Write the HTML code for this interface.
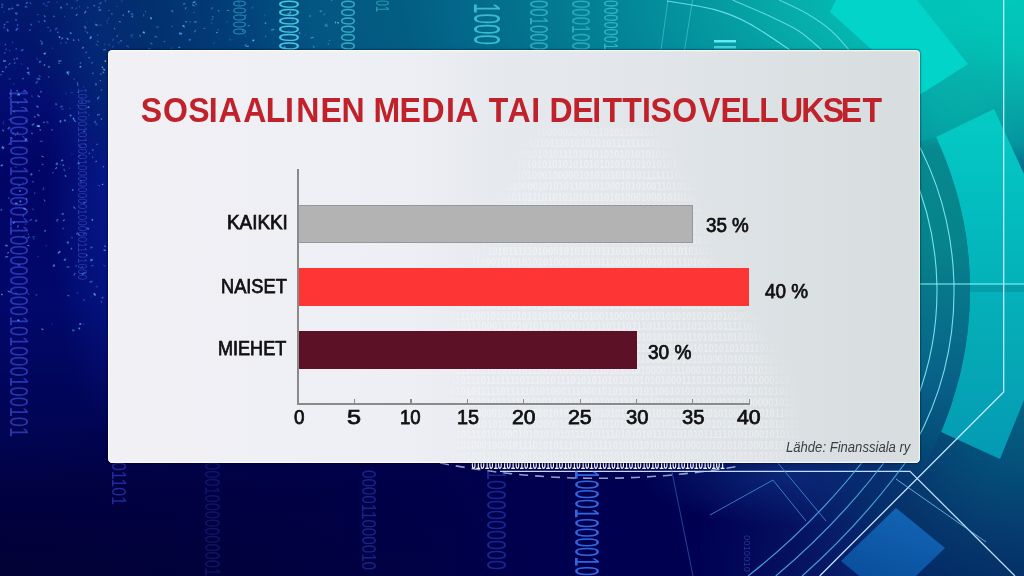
<!DOCTYPE html>
<html><head><meta charset="utf-8">
<style>
html,body{margin:0;padding:0;}
body{width:1024px;height:576px;overflow:hidden;position:relative;background:#061060;font-family:"Liberation Sans",sans-serif;}
#bg{position:absolute;left:0;top:0;width:1024px;height:576px;}
#panel{position:absolute;left:108px;top:50px;width:812px;height:413px;border-radius:4.5px;background:linear-gradient(to right,#f0f0f5 0%,#eeeff4 37%,#e6e9ee 47%,#e3e7eb 62%,#d9dee1 92%,#d8dde0 100%);box-shadow:inset 0 0 0 1.2px rgba(255,255,255,0.75),0 0 1.5px 0.5px rgba(0,0,30,0.35);}
.t{position:absolute;white-space:nowrap;transform-origin:0 0;line-height:1.15;}
.ti{font-size:35px;font-weight:bold;color:#c0222b;}
.lab{font-size:19.5px;font-weight:normal;-webkit-text-stroke:0.75px #111;color:#111;}
.tk{font-size:20.5px;}
.src{font-size:14.5px;font-style:italic;color:#3b3e44;}
.bar{position:absolute;left:299px;box-sizing:border-box;}
</style></head><body>
<svg id="bg" width="1024" height="576" viewBox="0 0 1024 576">
<defs>
<linearGradient id="gL" x1="0" y1="0" x2="0" y2="1">
<stop offset="0" stop-color="#021a6c"/>
<stop offset="0.18" stop-color="#030c70"/>
<stop offset="0.29" stop-color="#010565"/>
<stop offset="0.53" stop-color="#01086a"/>
<stop offset="0.77" stop-color="#010450"/>
<stop offset="0.86" stop-color="#010040"/>
<stop offset="1" stop-color="#020236"/>
</linearGradient>
<linearGradient id="gBot" gradientUnits="userSpaceOnUse" x1="0" y1="0" x2="1024" y2="0">
<stop offset="0" stop-color="#010040" stop-opacity="0"/>
<stop offset="0.35" stop-color="#00004a" stop-opacity="0.6"/>
<stop offset="0.55" stop-color="#000050" stop-opacity="1"/>
<stop offset="0.72" stop-color="#000052" stop-opacity="1"/>
<stop offset="1" stop-color="#000052" stop-opacity="0"/>
</linearGradient>
<radialGradient id="gT" gradientUnits="userSpaceOnUse" cx="1010" cy="0" r="1000" gradientTransform="translate(1010 0) scale(1 0.42) translate(-1010 0)">
<stop offset="0" stop-color="#00c8ba"/>
<stop offset="0.13" stop-color="#02c0b5"/>
<stop offset="0.23" stop-color="#07aaa9"/>
<stop offset="0.27" stop-color="#05a0a3"/>
<stop offset="0.37" stop-color="#038a9a"/>
<stop offset="0.45" stop-color="#037a90"/>
<stop offset="0.56" stop-color="#03668a"/>
<stop offset="0.61" stop-color="#035d82"/>
<stop offset="0.70" stop-color="#035582"/>
<stop offset="0.79" stop-color="#023c76"/>
<stop offset="0.86" stop-color="#02306e"/>
<stop offset="0.92" stop-color="#032a72" stop-opacity="0.9"/>
<stop offset="1" stop-color="#001a64" stop-opacity="0"/>
</radialGradient>
<radialGradient id="gB" gradientUnits="userSpaceOnUse" cx="1024" cy="576" r="330">
<stop offset="0" stop-color="#02306a" stop-opacity="1"/>
<stop offset="0.5" stop-color="#082470" stop-opacity="0.9"/>
<stop offset="1" stop-color="#0a1a6e" stop-opacity="0"/>
</radialGradient>
<linearGradient id="gBand" gradientUnits="userSpaceOnUse" x1="0" y1="125" x2="0" y2="475">
<stop offset="0" stop-color="#07939a" stop-opacity="0"/>
<stop offset="0.07" stop-color="#07888f"/>
<stop offset="0.34" stop-color="#06838c"/>
<stop offset="0.74" stop-color="#086088"/>
<stop offset="0.88" stop-color="#05537c" stop-opacity="0.8"/>
<stop offset="1" stop-color="#044f7a" stop-opacity="0"/>
</linearGradient>
<linearGradient id="gS2" gradientUnits="userSpaceOnUse" x1="0" y1="110" x2="0" y2="460">
<stop offset="0" stop-color="#05cbc4"/>
<stop offset="0.25" stop-color="#03bec0"/>
<stop offset="0.7" stop-color="#05a8b5"/>
<stop offset="1" stop-color="#049ab4"/>
</linearGradient>
<linearGradient id="gR" gradientUnits="userSpaceOnUse" x1="0" y1="380" x2="0" y2="576">
<stop offset="0" stop-color="#036382"/>
<stop offset="0.4" stop-color="#044f7a"/>
<stop offset="1" stop-color="#022f66"/>
</linearGradient>
<radialGradient id="gRR" gradientUnits="userSpaceOnUse" cx="1020" cy="405" r="260">
<stop offset="0" stop-color="#036382"/>
<stop offset="0.25" stop-color="#044f7a"/>
<stop offset="0.5" stop-color="#063a6e"/>
<stop offset="0.7" stop-color="#032f66" stop-opacity="0.8"/>
<stop offset="1" stop-color="#0a1a6e" stop-opacity="0"/>
</radialGradient>
<radialGradient id="gGlow" gradientUnits="userSpaceOnUse" cx="790" cy="474" r="150" gradientTransform="translate(790 474) scale(1 0.35) translate(-790 -474)">
<stop offset="0" stop-color="#0b2a78" stop-opacity="0.9"/>
<stop offset="1" stop-color="#0b2a78" stop-opacity="0"/>
</radialGradient>
<radialGradient id="gLG" gradientUnits="userSpaceOnUse" cx="115" cy="170" r="260" gradientTransform="translate(115 170) scale(0.26 1) translate(-115 -170)">
<stop offset="0" stop-color="#0a2aa8" stop-opacity="0.55"/>
<stop offset="0.6" stop-color="#0a2aa8" stop-opacity="0.25"/>
<stop offset="1" stop-color="#0a2aa8" stop-opacity="0"/>
</radialGradient>
<filter id="pblur" x="0" y="0" width="1" height="1"><feGaussianBlur stdDeviation="0.5"/></filter>
<radialGradient id="gTg" gradientUnits="userSpaceOnUse" cx="955" cy="110" r="90">
<stop offset="0" stop-color="#05b0aa" stop-opacity="0.7"/>
<stop offset="1" stop-color="#05b0aa" stop-opacity="0"/>
</radialGradient>
<linearGradient id="gSq" gradientUnits="userSpaceOnUse" x1="896" y1="508" x2="870" y2="590">
<stop offset="0" stop-color="#1366b8"/>
<stop offset="1" stop-color="#084f9c"/>
</linearGradient>
</defs>
<rect width="1024" height="576" fill="url(#gL)"/>
<rect x="0" y="430" width="1024" height="146" fill="url(#gBot)"/>
<rect width="1024" height="576" fill="url(#gB)"/>
<rect width="300" height="576" fill="url(#gLG)"/>
<rect width="1024" height="576" fill="url(#gT)"/>
<rect width="1024" height="576" fill="url(#gTg)"/>
<rect width="1024" height="576" fill="url(#gRR)"/>
<rect width="1024" height="576" fill="url(#gGlow)"/>
<path d="M900,147 L936.2,137.0 L941.2,148.3 L945.7,159.5 L949.9,170.8 L953.6,182.1 L956.9,193.3 L959.8,204.6 L962.3,215.9 L964.5,227.1 L966.3,238.4 L967.8,249.7 L968.8,260.9 L969.6,272.2 L969.9,283.5 L970.0,294.7 L969.6,306.0 L969.0,317.3 L967.9,328.5 L966.6,339.8 L964.8,351.1 L962.7,362.3 L960.2,373.6 L957.4,384.9 L954.1,396.1 L950.5,407.4 L946.4,418.7 L941.9,429.9 L937.0,441.2 L931.6,452.5 L925.7,463.7 L919.3,475.0 L900,475 Z" fill="url(#gBand)"/>
<path d="M836,0 L917,0 L968,64 L921,94 L830,12 Z" fill="#02d4ca"/>
<path d="M994,109 L1024,174 L1024,400 L1000,459 L941.1,432.0 L946.0,419.7 L950.5,407.4 L954.4,395.1 L957.9,382.8 L961.0,370.5 L963.5,358.2 L965.7,346.0 L967.4,333.7 L968.6,321.4 L969.5,309.1 L969.9,296.8 L970.0,284.5 L969.6,272.2 L968.8,259.9 L967.5,247.6 L965.9,235.3 L963.8,223.0 L961.2,210.8 L958.3,198.5 L954.8,186.2 L950.9,173.9 L946.5,161.6 L941.6,149.3 L936.2,137.0 Z" fill="url(#gS2)"/>
<rect x="970" y="285" width="54" height="7" fill="#068a98" opacity="0.5"/>
<path d="M1003.7,0 L1003.7,392 L819.7,576" stroke="#bfe6ff" stroke-width="1.3" fill="none"/>
<path d="M915,284 L1024,284" stroke="#8af2ff" fill="none" stroke-width="1.2"/>
<path d="M500,471.3 L910,471.3 L1015,576" stroke="#c0dcff" stroke-width="1.3" fill="none"/>
<path d="M896,479 L986,542" stroke="#7fc0f0" stroke-width="1" fill="none" opacity="0.8"/>
<path d="M904.3,120.0 A319.0,319.0 0 0 1 914.4,445.0" stroke="#8af2ff" fill="none" stroke-width="1.1" opacity="0.85"/>
<path d="M911.7,170.0 A302.0,302.0 0 0 1 916.6,400.0" stroke="#8af2ff" fill="none" stroke-width="1.1" opacity="0.85"/>
<path d="M871.7,450.0 A685.2,685.2 0 0 1 748.1,576.0" stroke="#55b4f0" stroke-width="1.2" fill="none" opacity="0.85"/>
<path d="M893.4,450.0 A702.6,702.6 0 0 1 775.7,576.0" stroke="#55b4f0" stroke-width="1.2" fill="none" opacity="0.85"/>
<path d="M914.5,450.0 A719.8,719.8 0 0 1 802.1,576.0" stroke="#55b4f0" stroke-width="1.2" fill="none" opacity="0.85"/>
<path d="M667.0,1.0 C674.8,2.4 700.0,5.7 713.7,9.4 C727.4,13.1 736.3,16.6 749.0,23.4 C761.7,30.2 783.2,45.6 790.0,50.0" stroke="#8af2ff" fill="none" stroke-width="1.1" opacity="0.75"/>
<path d="M732.5,0.0 C737.9,2.3 754.1,8.9 765.0,14.0 C775.9,19.1 788.3,24.3 798.0,30.5 C807.7,36.7 818.8,47.6 823.0,51.0" stroke="#8af2ff" fill="none" stroke-width="1.1" opacity="0.65"/>
<path d="M779.0,0.0 C783.8,2.3 798.8,8.9 807.5,14.0 C816.2,19.1 823.9,24.3 831.0,30.5 C838.1,36.7 846.8,47.6 850.0,51.0" stroke="#8af2ff" fill="none" stroke-width="1.1" opacity="0.6"/>
<path d="M668,0 L661,50 M692.6,0 L684.5,50" stroke="#8af2ff" fill="none" stroke-width="1" opacity="0.35"/>
<rect x="714" y="40" width="22" height="2.5" fill="#6af4ff" opacity="0.9"/>
<rect x="714" y="46" width="22" height="2.5" fill="#6af4ff" opacity="0.6"/>
<path d="M896,508 L945,548 L890,601 L841,561 Z" fill="url(#gSq)" opacity="0.95"/>
<path d="M710,515 L773,480 L806,521" stroke="#4a8ee0" stroke-width="1" fill="none" opacity="0.8"/>
<path d="M777,462 L826,521" stroke="#4a8ee0" stroke-width="1" fill="none" opacity="0.8"/>
<path d="M670,462 L693,576" stroke="#3a70c8" stroke-width="1" fill="none" opacity="0.6"/>
<path d="M440,463 Q590,492 740,466" stroke="#c0d0f0" stroke-width="1.6" fill="none" stroke-dasharray="9 7" opacity="0.75"/>
<text transform="translate(10.0,88) rotate(90)" font-family="Liberation Sans, sans-serif" font-size="25.0" fill="#4a5cf0" opacity="0.55" textLength="349" lengthAdjust="spacingAndGlyphs">11100100100001100000000101000100101</text>
<text transform="translate(78.0,88) rotate(90)" font-family="Liberation Sans, sans-serif" font-size="12.5" fill="#5a6cf0" opacity="0.45" textLength="192" lengthAdjust="spacingAndGlyphs">10001001010001000000001000001101000</text>
<text transform="translate(233.0,0) rotate(90)" font-family="Liberation Sans, sans-serif" font-size="18.1" fill="#40c8e8" opacity="0.5" textLength="35" lengthAdjust="spacingAndGlyphs">00000</text>
<text transform="translate(279.0,0) rotate(90)" font-family="Liberation Sans, sans-serif" font-size="29.2" fill="#55e6f6" opacity="0.8" textLength="50" lengthAdjust="spacingAndGlyphs">000000</text>
<text transform="translate(341.0,0) rotate(90)" font-family="Liberation Sans, sans-serif" font-size="20.8" fill="#50d8ec" opacity="0.65" textLength="50" lengthAdjust="spacingAndGlyphs">000000</text>
<text transform="translate(376.0,0) rotate(90)" font-family="Liberation Sans, sans-serif" font-size="18.1" fill="#50d0e0" opacity="0.5" textLength="12" lengthAdjust="spacingAndGlyphs">01</text>
<text transform="translate(474.0,3) rotate(90)" font-family="Liberation Sans, sans-serif" font-size="36.1" fill="#50dcec" opacity="0.7" textLength="42" lengthAdjust="spacingAndGlyphs">1000</text>
<text transform="translate(530.0,0) rotate(90)" font-family="Liberation Sans, sans-serif" font-size="25.0" fill="#50d8e8" opacity="0.55" textLength="50" lengthAdjust="spacingAndGlyphs">001000</text>
<text transform="translate(572.0,0) rotate(90)" font-family="Liberation Sans, sans-serif" font-size="25.0" fill="#50d8e8" opacity="0.5" textLength="50" lengthAdjust="spacingAndGlyphs">000100</text>
<text transform="translate(604.0,0) rotate(90)" font-family="Liberation Sans, sans-serif" font-size="19.4" fill="#50d8e8" opacity="0.6" textLength="50" lengthAdjust="spacingAndGlyphs">0000001</text>
<text transform="translate(112.0,462) rotate(90)" font-family="Liberation Sans, sans-serif" font-size="20.8" fill="#3a4ce0" opacity="0.55" textLength="43" lengthAdjust="spacingAndGlyphs">01101</text>
<text transform="translate(205.0,462) rotate(90)" font-family="Liberation Sans, sans-serif" font-size="22.2" fill="#3a4ce0" opacity="0.25" textLength="114" lengthAdjust="spacingAndGlyphs">00010000000001</text>
<text transform="translate(362.0,470) rotate(90)" font-family="Liberation Sans, sans-serif" font-size="20.8" fill="#3a4ce0" opacity="0.45" textLength="100" lengthAdjust="spacingAndGlyphs">000011000010</text>
<text transform="translate(487.0,470) rotate(90)" font-family="Liberation Sans, sans-serif" font-size="27.8" fill="#3a50e0" opacity="0.45" textLength="100" lengthAdjust="spacingAndGlyphs">1000000000</text>
<text transform="translate(575.0,470) rotate(90)" font-family="Liberation Sans, sans-serif" font-size="34.7" fill="#3a78f8" opacity="0.85" textLength="106" lengthAdjust="spacingAndGlyphs">10001000010</text>
<text transform="translate(744.0,535) rotate(90)" font-family="Liberation Sans, sans-serif" font-size="8.3" fill="#5a7ae0" opacity="0.4" textLength="37" lengthAdjust="spacingAndGlyphs">0010010</text>
<text x="471.6" y="468.5" font-family="Liberation Sans, sans-serif" font-weight="bold" font-size="12.5" fill="#ffffff" textLength="253" lengthAdjust="spacingAndGlyphs">0101010101010101010101010101010101010101010101010101010101</text>
<g filter="url(#pblur)">
<rect x="80.9" y="179.6" width="2.2" height="1.6" fill="#5a9cff" opacity="0.29" transform="rotate(57 80.9 179.6)"/>
<rect x="5.1" y="256.5" width="3.1" height="0.9" fill="#6ad0ff" opacity="0.68" transform="rotate(-4 5.1 256.5)"/>
<rect x="298.8" y="32.2" width="1.3" height="2.0" fill="#6ad0ff" opacity="0.49" transform="rotate(-11 298.8 32.2)"/>
<rect x="9.7" y="92.3" width="2.5" height="1.6" fill="#5a9cff" opacity="0.43" transform="rotate(30 9.7 92.3)"/>
<rect x="15.0" y="202.8" width="2.5" height="1.2" fill="#6ad0ff" opacity="0.73" transform="rotate(1 15.0 202.8)"/>
<rect x="26.2" y="197.9" width="1.3" height="1.3" fill="#4ab8ff" opacity="0.59" transform="rotate(27 26.2 197.9)"/>
<rect x="87.8" y="100.0" width="2.7" height="2.0" fill="#3a70e0" opacity="0.42" transform="rotate(16 87.8 100.0)"/>
<rect x="250.9" y="7.3" width="2.4" height="2.0" fill="#3a70e0" opacity="0.39" transform="rotate(-28 250.9 7.3)"/>
<rect x="89.8" y="259.8" width="2.8" height="2.0" fill="#4ab8ff" opacity="0.63" transform="rotate(-27 89.8 259.8)"/>
<rect x="75.7" y="265.3" width="1.2" height="1.3" fill="#5a9cff" opacity="0.63" transform="rotate(14 75.7 265.3)"/>
<rect x="27.2" y="244.9" width="2.2" height="1.1" fill="#5a9cff" opacity="0.68" transform="rotate(4 27.2 244.9)"/>
<rect x="117.4" y="42.8" width="2.7" height="1.1" fill="#3a70e0" opacity="0.44" transform="rotate(-29 117.4 42.8)"/>
<rect x="193.2" y="11.7" width="1.3" height="1.4" fill="#3a70e0" opacity="0.71" transform="rotate(8 193.2 11.7)"/>
<rect x="330.1" y="39.6" width="0.9" height="1.8" fill="#4ab8ff" opacity="0.53" transform="rotate(56 330.1 39.6)"/>
<rect x="4.5" y="245.9" width="1.5" height="1.6" fill="#3a70e0" opacity="0.54" transform="rotate(-63 4.5 245.9)"/>
<rect x="310.4" y="37.5" width="3.1" height="1.4" fill="#5a9cff" opacity="0.70" transform="rotate(-21 310.4 37.5)"/>
<rect x="17.0" y="89.6" width="2.1" height="1.3" fill="#5a9cff" opacity="0.51" transform="rotate(50 17.0 89.6)"/>
<rect x="263.6" y="15.2" width="2.0" height="0.8" fill="#3a70e0" opacity="0.64" transform="rotate(-26 263.6 15.2)"/>
<rect x="111.8" y="40.8" width="2.5" height="1.3" fill="#4ab8ff" opacity="0.29" transform="rotate(-64 111.8 40.8)"/>
<rect x="14.8" y="292.6" width="2.3" height="1.7" fill="#3a70e0" opacity="0.42" transform="rotate(-5 14.8 292.6)"/>
<rect x="24.3" y="140.2" width="2.9" height="1.9" fill="#6ad0ff" opacity="0.46" transform="rotate(-53 24.3 140.2)"/>
<rect x="36.9" y="105.1" width="2.7" height="1.7" fill="#4ab8ff" opacity="0.51" transform="rotate(38 36.9 105.1)"/>
<rect x="15.1" y="30.3" width="2.9" height="1.0" fill="#5a9cff" opacity="0.26" transform="rotate(-66 15.1 30.3)"/>
<rect x="96.7" y="98.8" width="3.2" height="1.5" fill="#4ab8ff" opacity="0.54" transform="rotate(-55 96.7 98.8)"/>
<rect x="20.8" y="107.0" width="2.8" height="1.1" fill="#4ab8ff" opacity="0.35" transform="rotate(-6 20.8 107.0)"/>
<rect x="55.3" y="164.3" width="2.5" height="1.9" fill="#4ab8ff" opacity="0.57" transform="rotate(-51 55.3 164.3)"/>
<rect x="91.2" y="265.4" width="2.2" height="1.1" fill="#4ab8ff" opacity="0.52" transform="rotate(-11 91.2 265.4)"/>
<rect x="264.3" y="22.9" width="1.4" height="1.9" fill="#4ab8ff" opacity="0.68" transform="rotate(-44 264.3 22.9)"/>
<rect x="29.2" y="30.6" width="1.5" height="1.2" fill="#6ad0ff" opacity="0.57" transform="rotate(-69 29.2 30.6)"/>
<rect x="40.5" y="90.7" width="1.1" height="1.9" fill="#5a9cff" opacity="0.75" transform="rotate(4 40.5 90.7)"/>
<rect x="154.4" y="35.7" width="3.0" height="1.6" fill="#3a70e0" opacity="0.61" transform="rotate(8 154.4 35.7)"/>
<rect x="14.3" y="166.6" width="2.6" height="1.2" fill="#3a70e0" opacity="0.43" transform="rotate(-7 14.3 166.6)"/>
<rect x="227.0" y="10.0" width="2.3" height="0.9" fill="#4ab8ff" opacity="0.67" transform="rotate(-1 227.0 10.0)"/>
<rect x="65.8" y="174.8" width="2.0" height="1.6" fill="#6ad0ff" opacity="0.49" transform="rotate(64 65.8 174.8)"/>
<rect x="211.9" y="16.7" width="1.4" height="0.9" fill="#6ad0ff" opacity="0.55" transform="rotate(-25 211.9 16.7)"/>
<rect x="37.1" y="14.1" width="1.3" height="1.0" fill="#5a9cff" opacity="0.52" transform="rotate(5 37.1 14.1)"/>
<rect x="76.1" y="0.9" width="2.7" height="1.0" fill="#4ab8ff" opacity="0.50" transform="rotate(-48 76.1 0.9)"/>
<rect x="108.1" y="10.8" width="1.4" height="0.8" fill="#4ab8ff" opacity="0.52" transform="rotate(-36 108.1 10.8)"/>
<rect x="107.8" y="18.7" width="1.0" height="1.5" fill="#5a9cff" opacity="0.31" transform="rotate(-67 107.8 18.7)"/>
<rect x="64.3" y="168.2" width="3.0" height="1.7" fill="#3a70e0" opacity="0.44" transform="rotate(58 64.3 168.2)"/>
<rect x="319.6" y="11.3" width="2.3" height="1.9" fill="#6ad0ff" opacity="0.30" transform="rotate(-44 319.6 11.3)"/>
<rect x="322.8" y="14.1" width="2.6" height="1.8" fill="#5a9cff" opacity="0.30" transform="rotate(-25 322.8 14.1)"/>
<rect x="19.2" y="202.0" width="1.9" height="1.8" fill="#6ad0ff" opacity="0.61" transform="rotate(-70 19.2 202.0)"/>
<rect x="38.1" y="94.9" width="2.8" height="1.4" fill="#6ad0ff" opacity="0.53" transform="rotate(40 38.1 94.9)"/>
<rect x="67.7" y="294.8" width="1.9" height="1.1" fill="#5a9cff" opacity="0.71" transform="rotate(20 67.7 294.8)"/>
<rect x="247.5" y="25.5" width="2.0" height="0.9" fill="#6ad0ff" opacity="0.55" transform="rotate(-11 247.5 25.5)"/>
<rect x="28.6" y="71.9" width="3.0" height="1.7" fill="#3a70e0" opacity="0.73" transform="rotate(60 28.6 71.9)"/>
<rect x="32.6" y="238.4" width="2.0" height="1.6" fill="#4ab8ff" opacity="0.27" transform="rotate(-31 32.6 238.4)"/>
<rect x="97.7" y="34.1" width="1.8" height="0.9" fill="#6ad0ff" opacity="0.33" transform="rotate(67 97.7 34.1)"/>
<rect x="82.5" y="266.2" width="1.1" height="1.4" fill="#4ab8ff" opacity="0.54" transform="rotate(63 82.5 266.2)"/>
<rect x="45.5" y="5.5" width="2.0" height="0.9" fill="#3a70e0" opacity="0.70" transform="rotate(-5 45.5 5.5)"/>
<rect x="58.1" y="60.4" width="3.2" height="1.5" fill="#6ad0ff" opacity="0.47" transform="rotate(-8 58.1 60.4)"/>
<rect x="94.7" y="84.3" width="2.1" height="1.5" fill="#5a9cff" opacity="0.33" transform="rotate(-12 94.7 84.3)"/>
<rect x="34.8" y="220.7" width="2.0" height="1.9" fill="#3a70e0" opacity="0.78" transform="rotate(-43 34.8 220.7)"/>
<rect x="95.9" y="43.4" width="3.2" height="0.9" fill="#4ab8ff" opacity="0.38" transform="rotate(33 95.9 43.4)"/>
<rect x="98.4" y="184.6" width="2.0" height="1.0" fill="#4ab8ff" opacity="0.33" transform="rotate(27 98.4 184.6)"/>
<rect x="2.9" y="129.3" width="2.3" height="1.2" fill="#4ab8ff" opacity="0.61" transform="rotate(52 2.9 129.3)"/>
<rect x="130.0" y="35.3" width="3.2" height="1.1" fill="#4ab8ff" opacity="0.32" transform="rotate(-29 130.0 35.3)"/>
<rect x="2.5" y="122.4" width="1.9" height="0.9" fill="#3a70e0" opacity="0.55" transform="rotate(-55 2.5 122.4)"/>
<rect x="103.8" y="49.2" width="1.7" height="1.7" fill="#4ab8ff" opacity="0.41" transform="rotate(-28 103.8 49.2)"/>
<rect x="44.3" y="199.2" width="2.3" height="1.0" fill="#4ab8ff" opacity="0.57" transform="rotate(52 44.3 199.2)"/>
<rect x="210.1" y="22.9" width="2.8" height="1.7" fill="#3a70e0" opacity="0.28" transform="rotate(-16 210.1 22.9)"/>
<rect x="102.2" y="166.8" width="1.7" height="1.6" fill="#3a70e0" opacity="0.73" transform="rotate(-50 102.2 166.8)"/>
<rect x="47.4" y="26.9" width="1.5" height="0.8" fill="#6ad0ff" opacity="0.55" transform="rotate(5 47.4 26.9)"/>
<rect x="203.6" y="28.0" width="1.6" height="0.8" fill="#4ab8ff" opacity="0.71" transform="rotate(-4 203.6 28.0)"/>
<rect x="47.6" y="67.2" width="2.2" height="1.9" fill="#6ad0ff" opacity="0.41" transform="rotate(-56 47.6 67.2)"/>
<rect x="337.2" y="21.8" width="2.0" height="1.3" fill="#6ad0ff" opacity="0.74" transform="rotate(20 337.2 21.8)"/>
<rect x="81.4" y="273.6" width="2.8" height="1.8" fill="#3a70e0" opacity="0.76" transform="rotate(-30 81.4 273.6)"/>
<rect x="101.5" y="297.0" width="2.1" height="1.5" fill="#4ab8ff" opacity="0.45" transform="rotate(-7 101.5 297.0)"/>
<rect x="96.9" y="114.1" width="3.1" height="1.7" fill="#6ad0ff" opacity="0.36" transform="rotate(-8 96.9 114.1)"/>
<rect x="99.0" y="3.6" width="2.6" height="1.2" fill="#4ab8ff" opacity="0.51" transform="rotate(-35 99.0 3.6)"/>
<rect x="131.1" y="36.2" width="1.6" height="1.7" fill="#3a70e0" opacity="0.34" transform="rotate(-5 131.1 36.2)"/>
<rect x="56.4" y="219.6" width="2.1" height="0.9" fill="#6ad0ff" opacity="0.46" transform="rotate(-14 56.4 219.6)"/>
<rect x="22.5" y="91.2" width="3.1" height="0.9" fill="#3a70e0" opacity="0.77" transform="rotate(-18 22.5 91.2)"/>
<rect x="87.8" y="114.7" width="1.1" height="1.8" fill="#5a9cff" opacity="0.32" transform="rotate(-38 87.8 114.7)"/>
<rect x="56.2" y="220.2" width="2.0" height="1.2" fill="#3a70e0" opacity="0.73" transform="rotate(1 56.2 220.2)"/>
<rect x="131.9" y="15.4" width="2.3" height="1.1" fill="#4ab8ff" opacity="0.67" transform="rotate(49 131.9 15.4)"/>
<rect x="47.0" y="2.3" width="2.7" height="1.3" fill="#3a70e0" opacity="0.50" transform="rotate(-33 47.0 2.3)"/>
<rect x="238.3" y="0.7" width="2.5" height="1.0" fill="#6ad0ff" opacity="0.27" transform="rotate(47 238.3 0.7)"/>
<rect x="123.0" y="14.6" width="0.8" height="1.4" fill="#6ad0ff" opacity="0.76" transform="rotate(18 123.0 14.6)"/>
<rect x="2.0" y="70.9" width="1.7" height="1.3" fill="#5a9cff" opacity="0.79" transform="rotate(6 2.0 70.9)"/>
<rect x="8.4" y="8.7" width="1.3" height="1.5" fill="#3a70e0" opacity="0.40" transform="rotate(23 8.4 8.7)"/>
<rect x="41.5" y="164.8" width="1.4" height="1.9" fill="#5a9cff" opacity="0.48" transform="rotate(-67 41.5 164.8)"/>
<rect x="211.3" y="19.2" width="2.0" height="0.8" fill="#6ad0ff" opacity="0.44" transform="rotate(-27 211.3 19.2)"/>
<rect x="103.7" y="43.8" width="1.0" height="2.0" fill="#4ab8ff" opacity="0.27" transform="rotate(-37 103.7 43.8)"/>
<rect x="245.7" y="45.8" width="3.1" height="1.2" fill="#5a9cff" opacity="0.72" transform="rotate(-1 245.7 45.8)"/>
<rect x="29.2" y="220.0" width="2.7" height="1.3" fill="#5a9cff" opacity="0.44" transform="rotate(-25 29.2 220.0)"/>
<rect x="69.9" y="32.2" width="1.9" height="1.3" fill="#6ad0ff" opacity="0.66" transform="rotate(14 69.9 32.2)"/>
<rect x="16.5" y="132.7" width="1.6" height="1.6" fill="#3a70e0" opacity="0.75" transform="rotate(-34 16.5 132.7)"/>
<rect x="92.6" y="72.4" width="1.3" height="1.5" fill="#5a9cff" opacity="0.60" transform="rotate(15 92.6 72.4)"/>
<rect x="19.8" y="184.8" width="0.9" height="1.5" fill="#5a9cff" opacity="0.63" transform="rotate(67 19.8 184.8)"/>
<rect x="147.9" y="47.9" width="2.8" height="1.3" fill="#3a70e0" opacity="0.42" transform="rotate(2 147.9 47.9)"/>
<rect x="72.8" y="40.0" width="1.3" height="1.3" fill="#6ad0ff" opacity="0.72" transform="rotate(-38 72.8 40.0)"/>
<rect x="103.1" y="71.2" width="2.1" height="1.3" fill="#6ad0ff" opacity="0.53" transform="rotate(44 103.1 71.2)"/>
<rect x="81.6" y="47.9" width="2.2" height="1.7" fill="#6ad0ff" opacity="0.44" transform="rotate(-48 81.6 47.9)"/>
<rect x="39.6" y="140.9" width="3.0" height="1.1" fill="#4ab8ff" opacity="0.41" transform="rotate(-7 39.6 140.9)"/>
<rect x="69.4" y="115.3" width="1.8" height="1.7" fill="#4ab8ff" opacity="0.64" transform="rotate(-35 69.4 115.3)"/>
<rect x="42.2" y="189.9" width="2.9" height="1.2" fill="#6ad0ff" opacity="0.34" transform="rotate(-63 42.2 189.9)"/>
<rect x="3.5" y="24.5" width="1.4" height="1.4" fill="#4ab8ff" opacity="0.61" transform="rotate(-45 3.5 24.5)"/>
<rect x="27.4" y="294.1" width="1.0" height="1.8" fill="#6ad0ff" opacity="0.40" transform="rotate(-66 27.4 294.1)"/>
<rect x="71.7" y="236.2" width="2.0" height="1.9" fill="#3a70e0" opacity="0.37" transform="rotate(34 71.7 236.2)"/>
<rect x="237.4" y="4.7" width="2.1" height="2.0" fill="#3a70e0" opacity="0.37" transform="rotate(-52 237.4 4.7)"/>
<rect x="34.1" y="115.8" width="1.7" height="1.9" fill="#3a70e0" opacity="0.61" transform="rotate(4 34.1 115.8)"/>
<rect x="229.5" y="39.2" width="1.3" height="1.4" fill="#6ad0ff" opacity="0.31" transform="rotate(-8 229.5 39.2)"/>
<rect x="21.9" y="182.5" width="2.1" height="1.2" fill="#5a9cff" opacity="0.25" transform="rotate(-4 21.9 182.5)"/>
<rect x="182.9" y="3.8" width="2.4" height="1.2" fill="#4ab8ff" opacity="0.56" transform="rotate(-21 182.9 3.8)"/>
<rect x="85.0" y="25.6" width="3.1" height="1.9" fill="#6ad0ff" opacity="0.35" transform="rotate(53 85.0 25.6)"/>
<rect x="77.6" y="291.4" width="2.4" height="1.4" fill="#3a70e0" opacity="0.36" transform="rotate(67 77.6 291.4)"/>
<rect x="31.4" y="124.6" width="2.9" height="1.6" fill="#6ad0ff" opacity="0.45" transform="rotate(-34 31.4 124.6)"/>
<rect x="39.4" y="129.2" width="1.5" height="1.6" fill="#5a9cff" opacity="0.57" transform="rotate(-5 39.4 129.2)"/>
<rect x="23.2" y="77.5" width="1.5" height="1.6" fill="#6ad0ff" opacity="0.39" transform="rotate(51 23.2 77.5)"/>
<rect x="16.7" y="24.9" width="1.2" height="1.5" fill="#5a9cff" opacity="0.61" transform="rotate(-42 16.7 24.9)"/>
<rect x="57.6" y="252.7" width="3.1" height="1.3" fill="#6ad0ff" opacity="0.74" transform="rotate(-41 57.6 252.7)"/>
<rect x="75.5" y="15.2" width="2.1" height="1.2" fill="#4ab8ff" opacity="0.71" transform="rotate(-44 75.5 15.2)"/>
<rect x="62.6" y="227.4" width="2.0" height="1.6" fill="#4ab8ff" opacity="0.33" transform="rotate(20 62.6 227.4)"/>
<rect x="94.4" y="292.8" width="2.9" height="1.5" fill="#6ad0ff" opacity="0.70" transform="rotate(53 94.4 292.8)"/>
<rect x="36.8" y="57.2" width="3.1" height="1.2" fill="#3a70e0" opacity="0.37" transform="rotate(61 36.8 57.2)"/>
<rect x="179.3" y="32.3" width="2.9" height="1.9" fill="#5a9cff" opacity="0.79" transform="rotate(14 179.3 32.3)"/>
<rect x="38.7" y="77.4" width="2.6" height="0.9" fill="#5a9cff" opacity="0.76" transform="rotate(44 38.7 77.4)"/>
<rect x="59.8" y="106.8" width="3.0" height="1.2" fill="#3a70e0" opacity="0.75" transform="rotate(-29 59.8 106.8)"/>
<rect x="107.4" y="22.5" width="0.9" height="1.1" fill="#3a70e0" opacity="0.64" transform="rotate(18 107.4 22.5)"/>
<rect x="85.6" y="51.5" width="1.3" height="1.7" fill="#6ad0ff" opacity="0.43" transform="rotate(7 85.6 51.5)"/>
<rect x="87.1" y="227.3" width="2.4" height="2.0" fill="#5a9cff" opacity="0.46" transform="rotate(16 87.1 227.3)"/>
<rect x="88.3" y="153.2" width="1.4" height="1.8" fill="#3a70e0" opacity="0.64" transform="rotate(-47 88.3 153.2)"/>
<rect x="36.8" y="125.2" width="2.5" height="1.2" fill="#6ad0ff" opacity="0.66" transform="rotate(25 36.8 125.2)"/>
<rect x="245.8" y="13.9" width="1.7" height="1.8" fill="#3a70e0" opacity="0.72" transform="rotate(40 245.8 13.9)"/>
<rect x="139.8" y="34.6" width="2.5" height="1.0" fill="#6ad0ff" opacity="0.46" transform="rotate(57 139.8 34.6)"/>
<rect x="8.4" y="119.8" width="2.8" height="1.1" fill="#5a9cff" opacity="0.43" transform="rotate(-41 8.4 119.8)"/>
<rect x="23.6" y="207.8" width="2.8" height="1.2" fill="#4ab8ff" opacity="0.76" transform="rotate(23 23.6 207.8)"/>
<rect x="84.2" y="143.6" width="1.0" height="1.8" fill="#5a9cff" opacity="0.39" transform="rotate(-35 84.2 143.6)"/>
<rect x="150.8" y="42.5" width="2.1" height="1.2" fill="#4ab8ff" opacity="0.55" transform="rotate(28 150.8 42.5)"/>
<rect x="79.2" y="323.2" width="2.2" height="1.7" fill="#5a9cff" opacity="0.72" transform="rotate(-2 79.2 323.2)"/>
<rect x="88.0" y="106.0" width="1.8" height="1.7" fill="#5a9cff" opacity="0.75" transform="rotate(23 88.0 106.0)"/>
<rect x="30.0" y="174.0" width="2.2" height="1.8" fill="#6ad0ff" opacity="0.50" transform="rotate(-24 30.0 174.0)"/>
<rect x="25.5" y="2.8" width="2.5" height="1.4" fill="#5a9cff" opacity="0.51" transform="rotate(-24 25.5 2.8)"/>
<rect x="8.3" y="144.3" width="1.7" height="0.9" fill="#6ad0ff" opacity="0.57" transform="rotate(-50 8.3 144.3)"/>
<rect x="100.7" y="118.0" width="1.3" height="2.0" fill="#4ab8ff" opacity="0.44" transform="rotate(-3 100.7 118.0)"/>
<rect x="189.4" y="20.7" width="2.1" height="1.5" fill="#3a70e0" opacity="0.41" transform="rotate(28 189.4 20.7)"/>
<rect x="33.8" y="193.2" width="1.6" height="0.9" fill="#3a70e0" opacity="0.80" transform="rotate(-34 33.8 193.2)"/>
<rect x="2.3" y="6.1" width="1.6" height="1.6" fill="#3a70e0" opacity="0.71" transform="rotate(61 2.3 6.1)"/>
<rect x="44.6" y="229.8" width="1.1" height="1.9" fill="#4ab8ff" opacity="0.75" transform="rotate(8 44.6 229.8)"/>
<rect x="103.5" y="68.6" width="2.2" height="1.2" fill="#6ad0ff" opacity="0.72" transform="rotate(26 103.5 68.6)"/>
<rect x="66.4" y="266.5" width="3.0" height="1.6" fill="#4ab8ff" opacity="0.40" transform="rotate(-11 66.4 266.5)"/>
<rect x="156.0" y="26.9" width="2.4" height="1.3" fill="#3a70e0" opacity="0.72" transform="rotate(-20 156.0 26.9)"/>
<rect x="309.2" y="16.5" width="1.5" height="1.3" fill="#6ad0ff" opacity="0.50" transform="rotate(-69 309.2 16.5)"/>
<rect x="72.0" y="329.5" width="2.5" height="1.7" fill="#4ab8ff" opacity="0.50" transform="rotate(1 72.0 329.5)"/>
<rect x="15.3" y="29.9" width="3.2" height="1.7" fill="#3a70e0" opacity="0.74" transform="rotate(-51 15.3 29.9)"/>
<rect x="145.9" y="11.0" width="0.8" height="1.1" fill="#6ad0ff" opacity="0.57" transform="rotate(61 145.9 11.0)"/>
<rect x="46.9" y="120.8" width="2.8" height="1.4" fill="#6ad0ff" opacity="0.31" transform="rotate(44 46.9 120.8)"/>
<rect x="84.0" y="272.0" width="2.2" height="1.2" fill="#4ab8ff" opacity="0.36" transform="rotate(4 84.0 272.0)"/>
<rect x="7.8" y="28.4" width="2.9" height="1.7" fill="#5a9cff" opacity="0.53" transform="rotate(64 7.8 28.4)"/>
<rect x="67.1" y="72.0" width="2.6" height="1.2" fill="#5a9cff" opacity="0.45" transform="rotate(39 67.1 72.0)"/>
<rect x="116.2" y="35.8" width="1.9" height="1.1" fill="#6ad0ff" opacity="0.43" transform="rotate(-21 116.2 35.8)"/>
<rect x="195.3" y="3.1" width="2.4" height="1.3" fill="#3a70e0" opacity="0.75" transform="rotate(28 195.3 3.1)"/>
<rect x="30.6" y="23.3" width="2.6" height="1.2" fill="#3a70e0" opacity="0.64" transform="rotate(43 30.6 23.3)"/>
<rect x="172.7" y="25.4" width="1.2" height="1.4" fill="#5a9cff" opacity="0.54" transform="rotate(69 172.7 25.4)"/>
<rect x="218.2" y="10.1" width="1.5" height="1.1" fill="#6ad0ff" opacity="0.60" transform="rotate(23 218.2 10.1)"/>
<rect x="193.7" y="32.0" width="3.1" height="0.8" fill="#4ab8ff" opacity="0.70" transform="rotate(-45 193.7 32.0)"/>
<rect x="68.6" y="167.8" width="1.3" height="1.3" fill="#3a70e0" opacity="0.50" transform="rotate(-29 68.6 167.8)"/>
<rect x="39.8" y="75.1" width="2.0" height="1.0" fill="#3a70e0" opacity="0.74" transform="rotate(59 39.8 75.1)"/>
<rect x="73.1" y="78.9" width="1.2" height="1.8" fill="#5a9cff" opacity="0.34" transform="rotate(-45 73.1 78.9)"/>
<rect x="103.3" y="49.5" width="0.9" height="0.8" fill="#6ad0ff" opacity="0.74" transform="rotate(9 103.3 49.5)"/>
<rect x="12.5" y="223.2" width="2.4" height="1.3" fill="#5a9cff" opacity="0.70" transform="rotate(-46 12.5 223.2)"/>
<rect x="213.0" y="43.7" width="2.3" height="0.9" fill="#3a70e0" opacity="0.50" transform="rotate(-56 213.0 43.7)"/>
<rect x="287.6" y="13.0" width="3.2" height="1.3" fill="#6ad0ff" opacity="0.64" transform="rotate(9 287.6 13.0)"/>
<rect x="62.6" y="220.5" width="2.1" height="1.3" fill="#4ab8ff" opacity="0.63" transform="rotate(-38 62.6 220.5)"/>
<rect x="77.7" y="91.6" width="1.4" height="1.1" fill="#6ad0ff" opacity="0.41" transform="rotate(2 77.7 91.6)"/>
<rect x="52.7" y="16.4" width="1.4" height="1.9" fill="#5a9cff" opacity="0.51" transform="rotate(-54 52.7 16.4)"/>
<rect x="7.2" y="128.5" width="2.8" height="1.8" fill="#6ad0ff" opacity="0.42" transform="rotate(-45 7.2 128.5)"/>
<rect x="87.8" y="57.0" width="2.5" height="1.6" fill="#3a70e0" opacity="0.60" transform="rotate(-8 87.8 57.0)"/>
<rect x="184.1" y="24.7" width="1.9" height="1.7" fill="#5a9cff" opacity="0.72" transform="rotate(70 184.1 24.7)"/>
<rect x="104.2" y="61.4" width="1.5" height="1.6" fill="#6ad0ff" opacity="0.69" transform="rotate(-61 104.2 61.4)"/>
<rect x="40.2" y="40.0" width="3.1" height="1.2" fill="#3a70e0" opacity="0.60" transform="rotate(31 40.2 40.0)"/>
<rect x="76.6" y="82.4" width="0.9" height="1.8" fill="#4ab8ff" opacity="0.61" transform="rotate(-21 76.6 82.4)"/>
<rect x="32.0" y="209.7" width="1.5" height="1.6" fill="#5a9cff" opacity="0.37" transform="rotate(-68 32.0 209.7)"/>
<rect x="121.0" y="0.7" width="1.2" height="1.1" fill="#4ab8ff" opacity="0.42" transform="rotate(-17 121.0 0.7)"/>
<rect x="185.4" y="21.3" width="1.4" height="1.3" fill="#6ad0ff" opacity="0.67" transform="rotate(-9 185.4 21.3)"/>
<rect x="8.4" y="8.0" width="2.5" height="1.2" fill="#5a9cff" opacity="0.62" transform="rotate(16 8.4 8.0)"/>
<rect x="218.6" y="29.1" width="0.9" height="1.7" fill="#6ad0ff" opacity="0.40" transform="rotate(68 218.6 29.1)"/>
<rect x="184.6" y="7.8" width="2.2" height="1.4" fill="#3a70e0" opacity="0.59" transform="rotate(-28 184.6 7.8)"/>
<rect x="8.2" y="64.4" width="2.3" height="1.0" fill="#4ab8ff" opacity="0.55" transform="rotate(-43 8.2 64.4)"/>
<rect x="61.2" y="6.3" width="2.0" height="1.7" fill="#5a9cff" opacity="0.62" transform="rotate(54 61.2 6.3)"/>
<rect x="243.1" y="30.1" width="1.8" height="1.4" fill="#6ad0ff" opacity="0.41" transform="rotate(68 243.1 30.1)"/>
<rect x="59.8" y="42.9" width="1.1" height="1.9" fill="#3a70e0" opacity="0.55" transform="rotate(-58 59.8 42.9)"/>
<rect x="240.5" y="13.6" width="1.2" height="0.8" fill="#3a70e0" opacity="0.35" transform="rotate(52 240.5 13.6)"/>
<rect x="30.3" y="2.2" width="1.9" height="0.9" fill="#6ad0ff" opacity="0.47" transform="rotate(54 30.3 2.2)"/>
<rect x="25.2" y="120.6" width="0.9" height="1.7" fill="#6ad0ff" opacity="0.40" transform="rotate(-33 25.2 120.6)"/>
<rect x="66.3" y="3.8" width="1.3" height="1.1" fill="#4ab8ff" opacity="0.68" transform="rotate(-12 66.3 3.8)"/>
<rect x="8.4" y="252.0" width="1.0" height="1.7" fill="#6ad0ff" opacity="0.75" transform="rotate(54 8.4 252.0)"/>
<rect x="97.6" y="8.0" width="2.4" height="1.2" fill="#4ab8ff" opacity="0.41" transform="rotate(-45 97.6 8.0)"/>
<rect x="15.7" y="12.1" width="2.5" height="2.0" fill="#4ab8ff" opacity="0.50" transform="rotate(29 15.7 12.1)"/>
<rect x="92.2" y="156.4" width="1.0" height="1.7" fill="#3a70e0" opacity="0.78" transform="rotate(-6 92.2 156.4)"/>
<rect x="79.2" y="66.6" width="1.9" height="1.6" fill="#4ab8ff" opacity="0.78" transform="rotate(-28 79.2 66.6)"/>
<rect x="17.7" y="319.3" width="1.8" height="1.4" fill="#6ad0ff" opacity="0.79" transform="rotate(14 17.7 319.3)"/>
<rect x="105.6" y="21.0" width="2.1" height="1.6" fill="#3a70e0" opacity="0.34" transform="rotate(-49 105.6 21.0)"/>
<rect x="85.6" y="174.1" width="1.7" height="0.8" fill="#3a70e0" opacity="0.26" transform="rotate(37 85.6 174.1)"/>
<rect x="82.9" y="203.1" width="2.8" height="1.5" fill="#3a70e0" opacity="0.65" transform="rotate(-37 82.9 203.1)"/>
<rect x="330.9" y="0.5" width="2.5" height="1.1" fill="#4ab8ff" opacity="0.69" transform="rotate(-61 330.9 0.5)"/>
<rect x="121.4" y="18.7" width="1.0" height="1.1" fill="#3a70e0" opacity="0.29" transform="rotate(8 121.4 18.7)"/>
<rect x="51.0" y="325.3" width="3.2" height="0.8" fill="#3a70e0" opacity="0.29" transform="rotate(-57 51.0 325.3)"/>
<rect x="37.6" y="113.8" width="2.8" height="1.2" fill="#6ad0ff" opacity="0.63" transform="rotate(39 37.6 113.8)"/>
<rect x="99.1" y="24.7" width="2.6" height="1.2" fill="#4ab8ff" opacity="0.26" transform="rotate(-9 99.1 24.7)"/>
<rect x="73.8" y="206.3" width="2.9" height="1.0" fill="#6ad0ff" opacity="0.56" transform="rotate(46 73.8 206.3)"/>
<rect x="59.8" y="120.3" width="1.6" height="1.9" fill="#6ad0ff" opacity="0.69" transform="rotate(7 59.8 120.3)"/>
<rect x="120.3" y="40.3" width="1.1" height="1.6" fill="#5a9cff" opacity="0.78" transform="rotate(-21 120.3 40.3)"/>
<rect x="32.4" y="94.9" width="2.5" height="1.6" fill="#3a70e0" opacity="0.32" transform="rotate(70 32.4 94.9)"/>
<rect x="16.0" y="134.1" width="1.0" height="1.8" fill="#5a9cff" opacity="0.43" transform="rotate(47 16.0 134.1)"/>
<rect x="13.8" y="63.8" width="2.3" height="1.0" fill="#4ab8ff" opacity="0.49" transform="rotate(-61 13.8 63.8)"/>
<rect x="3.8" y="52.6" width="1.4" height="1.5" fill="#5a9cff" opacity="0.44" transform="rotate(-21 3.8 52.6)"/>
<rect x="182.6" y="25.1" width="3.2" height="1.1" fill="#5a9cff" opacity="0.69" transform="rotate(36 182.6 25.1)"/>
<rect x="43.5" y="65.5" width="1.7" height="1.4" fill="#6ad0ff" opacity="0.58" transform="rotate(-69 43.5 65.5)"/>
<rect x="93.8" y="122.5" width="2.3" height="1.3" fill="#4ab8ff" opacity="0.44" transform="rotate(-56 93.8 122.5)"/>
<rect x="89.2" y="38.5" width="2.9" height="1.9" fill="#4ab8ff" opacity="0.68" transform="rotate(-63 89.2 38.5)"/>
<rect x="112.1" y="47.4" width="2.3" height="1.1" fill="#5a9cff" opacity="0.34" transform="rotate(-69 112.1 47.4)"/>
<rect x="104.5" y="245.3" width="2.2" height="0.8" fill="#6ad0ff" opacity="0.72" transform="rotate(39 104.5 245.3)"/>
<rect x="328.3" y="42.5" width="2.6" height="1.1" fill="#6ad0ff" opacity="0.29" transform="rotate(64 328.3 42.5)"/>
<rect x="185.3" y="7.5" width="2.2" height="0.9" fill="#4ab8ff" opacity="0.44" transform="rotate(60 185.3 7.5)"/>
<rect x="180.0" y="32.1" width="2.0" height="1.9" fill="#3a70e0" opacity="0.29" transform="rotate(48 180.0 32.1)"/>
<rect x="12.4" y="41.4" width="1.5" height="1.0" fill="#3a70e0" opacity="0.69" transform="rotate(39 12.4 41.4)"/>
<rect x="102.4" y="66.3" width="1.8" height="1.3" fill="#4ab8ff" opacity="0.77" transform="rotate(54 102.4 66.3)"/>
<rect x="10.0" y="49.8" width="1.0" height="1.5" fill="#6ad0ff" opacity="0.32" transform="rotate(48 10.0 49.8)"/>
<rect x="3.5" y="26.3" width="2.0" height="2.0" fill="#3a70e0" opacity="0.43" transform="rotate(16 3.5 26.3)"/>
<rect x="101.1" y="89.0" width="1.5" height="1.4" fill="#4ab8ff" opacity="0.42" transform="rotate(24 101.1 89.0)"/>
<rect x="52.1" y="128.7" width="1.7" height="1.1" fill="#5a9cff" opacity="0.61" transform="rotate(66 52.1 128.7)"/>
<rect x="63.6" y="258.9" width="2.4" height="1.9" fill="#4ab8ff" opacity="0.61" transform="rotate(-12 63.6 258.9)"/>
<rect x="37.6" y="124.7" width="2.7" height="1.9" fill="#6ad0ff" opacity="0.78" transform="rotate(15 37.6 124.7)"/>
<rect x="2.3" y="146.1" width="2.7" height="1.9" fill="#4ab8ff" opacity="0.75" transform="rotate(33 2.3 146.1)"/>
<rect x="56.0" y="102.8" width="2.2" height="1.9" fill="#3a70e0" opacity="0.59" transform="rotate(49 56.0 102.8)"/>
<rect x="24.7" y="224.5" width="1.3" height="1.5" fill="#3a70e0" opacity="0.45" transform="rotate(-68 24.7 224.5)"/>
<rect x="4.5" y="44.7" width="1.2" height="1.1" fill="#4ab8ff" opacity="0.59" transform="rotate(-49 4.5 44.7)"/>
<rect x="61.1" y="108.4" width="2.5" height="1.7" fill="#3a70e0" opacity="0.32" transform="rotate(-9 61.1 108.4)"/>
<rect x="71.6" y="6.9" width="1.5" height="1.7" fill="#6ad0ff" opacity="0.42" transform="rotate(16 71.6 6.9)"/>
<rect x="57.1" y="31.5" width="1.6" height="1.2" fill="#4ab8ff" opacity="0.59" transform="rotate(9 57.1 31.5)"/>
<rect x="210.4" y="8.5" width="2.8" height="1.7" fill="#3a70e0" opacity="0.59" transform="rotate(-41 210.4 8.5)"/>
<rect x="11.1" y="8.2" width="1.9" height="1.6" fill="#6ad0ff" opacity="0.46" transform="rotate(-33 11.1 8.2)"/>
<rect x="270.9" y="29.5" width="3.2" height="1.4" fill="#6ad0ff" opacity="0.48" transform="rotate(-16 270.9 29.5)"/>
<rect x="63.8" y="16.3" width="1.0" height="1.3" fill="#5a9cff" opacity="0.41" transform="rotate(-48 63.8 16.3)"/>
<rect x="143.2" y="31.2" width="2.1" height="1.8" fill="#6ad0ff" opacity="0.77" transform="rotate(24 143.2 31.2)"/>
<rect x="77.7" y="104.3" width="1.7" height="1.5" fill="#4ab8ff" opacity="0.31" transform="rotate(38 77.7 104.3)"/>
<rect x="15.7" y="48.2" width="1.1" height="1.5" fill="#6ad0ff" opacity="0.45" transform="rotate(6 15.7 48.2)"/>
<rect x="192.5" y="4.0" width="3.0" height="1.3" fill="#6ad0ff" opacity="0.49" transform="rotate(35 192.5 4.0)"/>
<rect x="101.4" y="300.6" width="2.0" height="0.9" fill="#4ab8ff" opacity="0.46" transform="rotate(69 101.4 300.6)"/>
<rect x="103.3" y="264.5" width="3.1" height="0.9" fill="#4ab8ff" opacity="0.29" transform="rotate(30 103.3 264.5)"/>
<rect x="69.3" y="108.2" width="1.3" height="0.9" fill="#6ad0ff" opacity="0.37" transform="rotate(-23 69.3 108.2)"/>
<rect x="49.2" y="31.3" width="2.5" height="1.4" fill="#3a70e0" opacity="0.52" transform="rotate(-55 49.2 31.3)"/>
<rect x="116.3" y="6.1" width="1.7" height="0.9" fill="#3a70e0" opacity="0.32" transform="rotate(-1 116.3 6.1)"/>
<rect x="96.8" y="41.4" width="1.1" height="1.8" fill="#3a70e0" opacity="0.72" transform="rotate(-57 96.8 41.4)"/>
<rect x="77.7" y="84.1" width="1.2" height="1.3" fill="#6ad0ff" opacity="0.58" transform="rotate(29 77.7 84.1)"/>
<rect x="100.2" y="79.8" width="1.3" height="1.1" fill="#5a9cff" opacity="0.68" transform="rotate(36 100.2 79.8)"/>
<rect x="68.3" y="241.1" width="2.2" height="2.0" fill="#4ab8ff" opacity="0.58" transform="rotate(65 68.3 241.1)"/>
<rect x="279.4" y="38.1" width="1.0" height="1.4" fill="#5a9cff" opacity="0.34" transform="rotate(-29 279.4 38.1)"/>
<rect x="71.6" y="247.5" width="2.0" height="1.3" fill="#5a9cff" opacity="0.61" transform="rotate(63 71.6 247.5)"/>
<rect x="54.5" y="29.1" width="3.0" height="1.7" fill="#5a9cff" opacity="0.35" transform="rotate(-36 54.5 29.1)"/>
<rect x="79.3" y="145.5" width="1.3" height="1.0" fill="#6ad0ff" opacity="0.40" transform="rotate(-12 79.3 145.5)"/>
<rect x="38.0" y="255.5" width="1.1" height="1.8" fill="#6ad0ff" opacity="0.28" transform="rotate(23 38.0 255.5)"/>
<rect x="4.0" y="10.9" width="1.6" height="1.3" fill="#3a70e0" opacity="0.37" transform="rotate(60 4.0 10.9)"/>
<rect x="58.4" y="36.7" width="1.3" height="1.9" fill="#6ad0ff" opacity="0.77" transform="rotate(-39 58.4 36.7)"/>
<rect x="313.6" y="45.4" width="2.7" height="1.2" fill="#5a9cff" opacity="0.62" transform="rotate(62 313.6 45.4)"/>
<rect x="178.0" y="47.4" width="2.3" height="1.0" fill="#5a9cff" opacity="0.77" transform="rotate(-24 178.0 47.4)"/>
<rect x="91.3" y="220.3" width="1.6" height="1.5" fill="#4ab8ff" opacity="0.79" transform="rotate(-63 91.3 220.3)"/>
<rect x="245.6" y="35.6" width="0.9" height="1.8" fill="#3a70e0" opacity="0.46" transform="rotate(23 245.6 35.6)"/>
<rect x="265.1" y="35.7" width="1.0" height="1.6" fill="#4ab8ff" opacity="0.59" transform="rotate(-6 265.1 35.7)"/>
<rect x="40.6" y="43.3" width="2.0" height="1.9" fill="#5a9cff" opacity="0.51" transform="rotate(-30 40.6 43.3)"/>
<rect x="22.4" y="237.4" width="2.8" height="1.2" fill="#3a70e0" opacity="0.41" transform="rotate(-53 22.4 237.4)"/>
<rect x="18.1" y="93.6" width="1.9" height="1.6" fill="#6ad0ff" opacity="0.76" transform="rotate(18 18.1 93.6)"/>
<rect x="75.8" y="233.4" width="2.3" height="2.0" fill="#5a9cff" opacity="0.49" transform="rotate(-36 75.8 233.4)"/>
<rect x="143.9" y="13.8" width="1.8" height="1.0" fill="#4ab8ff" opacity="0.42" transform="rotate(70 143.9 13.8)"/>
<rect x="11.0" y="107.2" width="1.8" height="1.3" fill="#4ab8ff" opacity="0.40" transform="rotate(-64 11.0 107.2)"/>
<rect x="43.3" y="53.6" width="2.4" height="1.6" fill="#6ad0ff" opacity="0.67" transform="rotate(-37 43.3 53.6)"/>
<rect x="56.4" y="2.5" width="1.2" height="1.0" fill="#6ad0ff" opacity="0.34" transform="rotate(-64 56.4 2.5)"/>
<rect x="7.9" y="290.4" width="3.1" height="1.0" fill="#4ab8ff" opacity="0.75" transform="rotate(28 7.9 290.4)"/>
<rect x="87.0" y="253.8" width="2.1" height="1.7" fill="#5a9cff" opacity="0.34" transform="rotate(61 87.0 253.8)"/>
<rect x="14.2" y="83.2" width="1.0" height="1.9" fill="#3a70e0" opacity="0.50" transform="rotate(68 14.2 83.2)"/>
<rect x="83.0" y="131.1" width="2.4" height="1.3" fill="#4ab8ff" opacity="0.49" transform="rotate(-21 83.0 131.1)"/>
<rect x="43.7" y="2.4" width="2.6" height="1.2" fill="#3a70e0" opacity="0.51" transform="rotate(59 43.7 2.4)"/>
<rect x="20.4" y="146.8" width="2.1" height="1.7" fill="#3a70e0" opacity="0.27" transform="rotate(9 20.4 146.8)"/>
<rect x="67.3" y="72.1" width="3.0" height="1.1" fill="#4ab8ff" opacity="0.72" transform="rotate(51 67.3 72.1)"/>
<rect x="95.9" y="285.6" width="1.7" height="1.8" fill="#3a70e0" opacity="0.41" transform="rotate(2 95.9 285.6)"/>
<rect x="244.6" y="44.5" width="2.0" height="1.2" fill="#6ad0ff" opacity="0.53" transform="rotate(-3 244.6 44.5)"/>
<rect x="89.4" y="281.5" width="3.0" height="1.7" fill="#6ad0ff" opacity="0.38" transform="rotate(-21 89.4 281.5)"/>
<rect x="15.3" y="18.8" width="1.8" height="1.9" fill="#3a70e0" opacity="0.56" transform="rotate(10 15.3 18.8)"/>
<rect x="66.6" y="71.3" width="3.0" height="1.6" fill="#6ad0ff" opacity="0.49" transform="rotate(-1 66.6 71.3)"/>
<rect x="45.5" y="246.1" width="1.2" height="1.4" fill="#5a9cff" opacity="0.34" transform="rotate(-69 45.5 246.1)"/>
<rect x="92.1" y="149.0" width="1.6" height="1.8" fill="#4ab8ff" opacity="0.46" transform="rotate(6 92.1 149.0)"/>
<rect x="87.2" y="21.4" width="0.8" height="1.8" fill="#3a70e0" opacity="0.34" transform="rotate(51 87.2 21.4)"/>
<rect x="192.4" y="2.4" width="3.1" height="1.3" fill="#6ad0ff" opacity="0.65" transform="rotate(-26 192.4 2.4)"/>
<rect x="44.6" y="15.1" width="2.1" height="1.2" fill="#6ad0ff" opacity="0.48" transform="rotate(55 44.6 15.1)"/>
<rect x="82.9" y="300.0" width="2.1" height="1.2" fill="#3a70e0" opacity="0.61" transform="rotate(-24 82.9 300.0)"/>
<rect x="151.3" y="16.9" width="2.3" height="1.5" fill="#6ad0ff" opacity="0.73" transform="rotate(69 151.3 16.9)"/>
<rect x="13.4" y="58.6" width="1.4" height="1.7" fill="#6ad0ff" opacity="0.35" transform="rotate(-17 13.4 58.6)"/>
<rect x="67.3" y="37.4" width="2.6" height="1.3" fill="#4ab8ff" opacity="0.70" transform="rotate(51 67.3 37.4)"/>
<rect x="18.9" y="191.1" width="1.6" height="1.4" fill="#6ad0ff" opacity="0.74" transform="rotate(-47 18.9 191.1)"/>
<rect x="70.2" y="92.4" width="2.9" height="0.9" fill="#5a9cff" opacity="0.32" transform="rotate(-6 70.2 92.4)"/>
<rect x="284.5" y="46.1" width="1.8" height="1.9" fill="#4ab8ff" opacity="0.78" transform="rotate(41 284.5 46.1)"/>
<rect x="193.9" y="21.3" width="2.8" height="1.5" fill="#4ab8ff" opacity="0.44" transform="rotate(-7 193.9 21.3)"/>
<rect x="287.9" y="29.7" width="1.1" height="1.9" fill="#3a70e0" opacity="0.69" transform="rotate(-24 287.9 29.7)"/>
<rect x="41.8" y="328.2" width="2.0" height="1.3" fill="#6ad0ff" opacity="0.69" transform="rotate(29 41.8 328.2)"/>
<rect x="0.8" y="73.8" width="1.2" height="1.5" fill="#6ad0ff" opacity="0.42" transform="rotate(30 0.8 73.8)"/>
<rect x="77.5" y="162.6" width="2.4" height="1.7" fill="#5a9cff" opacity="0.53" transform="rotate(2 77.5 162.6)"/>
<rect x="9.9" y="96.9" width="0.9" height="1.4" fill="#6ad0ff" opacity="0.52" transform="rotate(35 9.9 96.9)"/>
<rect x="24.7" y="108.8" width="2.1" height="1.6" fill="#3a70e0" opacity="0.40" transform="rotate(-35 24.7 108.8)"/>
<rect x="95.0" y="161.1" width="2.0" height="1.5" fill="#4ab8ff" opacity="0.44" transform="rotate(-17 95.0 161.1)"/>
<rect x="65.6" y="92.6" width="1.9" height="0.9" fill="#5a9cff" opacity="0.31" transform="rotate(49 65.6 92.6)"/>
<rect x="52.2" y="172.8" width="1.2" height="0.9" fill="#6ad0ff" opacity="0.56" transform="rotate(-35 52.2 172.8)"/>
<rect x="95.5" y="23.4" width="3.0" height="1.7" fill="#5a9cff" opacity="0.63" transform="rotate(27 95.5 23.4)"/>
<rect x="41.9" y="155.6" width="2.2" height="1.0" fill="#6ad0ff" opacity="0.60" transform="rotate(30 41.9 155.6)"/>
<rect x="21.4" y="62.9" width="2.0" height="1.1" fill="#3a70e0" opacity="0.39" transform="rotate(48 21.4 62.9)"/>
<rect x="143.1" y="16.0" width="0.8" height="0.9" fill="#4ab8ff" opacity="0.68" transform="rotate(-50 143.1 16.0)"/>
<rect x="163.9" y="40.9" width="1.4" height="0.9" fill="#5a9cff" opacity="0.66" transform="rotate(19 163.9 40.9)"/>
<rect x="82.9" y="324.3" width="1.2" height="1.0" fill="#4ab8ff" opacity="0.34" transform="rotate(-49 82.9 324.3)"/>
<rect x="16.3" y="4.5" width="2.8" height="1.4" fill="#5a9cff" opacity="0.60" transform="rotate(-5 16.3 4.5)"/>
<rect x="22.2" y="216.3" width="2.0" height="1.6" fill="#3a70e0" opacity="0.63" transform="rotate(-63 22.2 216.3)"/>
<rect x="62.2" y="212.7" width="2.1" height="1.9" fill="#5a9cff" opacity="0.57" transform="rotate(23 62.2 212.7)"/>
<rect x="119.0" y="20.9" width="2.1" height="1.1" fill="#4ab8ff" opacity="0.61" transform="rotate(16 119.0 20.9)"/>
<rect x="10.8" y="137.2" width="2.2" height="0.9" fill="#6ad0ff" opacity="0.48" transform="rotate(21 10.8 137.2)"/>
<rect x="79.5" y="63.6" width="2.1" height="0.9" fill="#4ab8ff" opacity="0.55" transform="rotate(-47 79.5 63.6)"/>
<rect x="77.5" y="39.4" width="1.3" height="2.0" fill="#3a70e0" opacity="0.75" transform="rotate(-32 77.5 39.4)"/>
<rect x="91.0" y="63.6" width="2.5" height="0.9" fill="#6ad0ff" opacity="0.41" transform="rotate(-54 91.0 63.6)"/>
<rect x="126.7" y="45.1" width="3.1" height="1.2" fill="#3a70e0" opacity="0.51" transform="rotate(30 126.7 45.1)"/>
<rect x="170.3" y="47.9" width="2.9" height="1.1" fill="#3a70e0" opacity="0.43" transform="rotate(-15 170.3 47.9)"/>
<rect x="16.9" y="227.6" width="2.9" height="1.2" fill="#5a9cff" opacity="0.44" transform="rotate(-66 16.9 227.6)"/>
<rect x="13.7" y="110.8" width="1.4" height="1.4" fill="#4ab8ff" opacity="0.56" transform="rotate(25 13.7 110.8)"/>
<rect x="51.9" y="47.4" width="0.9" height="1.9" fill="#5a9cff" opacity="0.31" transform="rotate(-12 51.9 47.4)"/>
<rect x="16.6" y="95.0" width="2.9" height="1.0" fill="#5a9cff" opacity="0.65" transform="rotate(-37 16.6 95.0)"/>
<rect x="35.1" y="82.7" width="2.9" height="1.7" fill="#4ab8ff" opacity="0.37" transform="rotate(-44 35.1 82.7)"/>
<rect x="52.5" y="266.3" width="2.6" height="1.8" fill="#6ad0ff" opacity="0.53" transform="rotate(-61 52.5 266.3)"/>
<rect x="78.5" y="7.1" width="1.8" height="1.6" fill="#3a70e0" opacity="0.42" transform="rotate(-65 78.5 7.1)"/>
<rect x="335.2" y="21.5" width="1.0" height="1.8" fill="#6ad0ff" opacity="0.77" transform="rotate(16 335.2 21.5)"/>
<rect x="99.9" y="73.5" width="1.3" height="1.8" fill="#4ab8ff" opacity="0.46" transform="rotate(-21 99.9 73.5)"/>
<rect x="96.0" y="143.7" width="2.1" height="1.2" fill="#5a9cff" opacity="0.40" transform="rotate(1 96.0 143.7)"/>
<rect x="22.0" y="135.7" width="2.2" height="0.8" fill="#4ab8ff" opacity="0.49" transform="rotate(5 22.0 135.7)"/>
<rect x="2.8" y="123.1" width="1.9" height="1.3" fill="#3a70e0" opacity="0.33" transform="rotate(13 2.8 123.1)"/>
<rect x="64.4" y="119.3" width="2.0" height="1.9" fill="#5a9cff" opacity="0.60" transform="rotate(24 64.4 119.3)"/>
<rect x="16.1" y="57.8" width="1.6" height="1.8" fill="#3a70e0" opacity="0.77" transform="rotate(-10 16.1 57.8)"/>
<rect x="78.6" y="234.0" width="1.6" height="1.0" fill="#5a9cff" opacity="0.77" transform="rotate(36 78.6 234.0)"/>
<rect x="60.0" y="164.1" width="1.1" height="0.9" fill="#3a70e0" opacity="0.68" transform="rotate(-18 60.0 164.1)"/>
<rect x="24.4" y="6.3" width="2.9" height="1.9" fill="#5a9cff" opacity="0.41" transform="rotate(-17 24.4 6.3)"/>
<rect x="42.7" y="122.0" width="2.0" height="1.3" fill="#4ab8ff" opacity="0.48" transform="rotate(-11 42.7 122.0)"/>
<rect x="186.4" y="12.6" width="0.9" height="1.1" fill="#3a70e0" opacity="0.40" transform="rotate(53 186.4 12.6)"/>
<rect x="17.9" y="225.2" width="1.1" height="1.4" fill="#6ad0ff" opacity="0.29" transform="rotate(38 17.9 225.2)"/>
<rect x="61.9" y="165.2" width="2.2" height="1.7" fill="#4ab8ff" opacity="0.50" transform="rotate(-36 61.9 165.2)"/>
<rect x="304.3" y="34.9" width="1.9" height="1.0" fill="#3a70e0" opacity="0.31" transform="rotate(-33 304.3 34.9)"/>
<rect x="78.1" y="155.8" width="2.3" height="1.0" fill="#4ab8ff" opacity="0.36" transform="rotate(-27 78.1 155.8)"/>
<rect x="217.6" y="31.9" width="1.0" height="1.7" fill="#6ad0ff" opacity="0.70" transform="rotate(69 217.6 31.9)"/>
<rect x="95.3" y="82.7" width="2.5" height="1.6" fill="#3a70e0" opacity="0.52" transform="rotate(27 95.3 82.7)"/>
<rect x="226.6" y="20.4" width="2.6" height="1.6" fill="#3a70e0" opacity="0.29" transform="rotate(39 226.6 20.4)"/>
<rect x="7.8" y="198.4" width="1.3" height="1.6" fill="#3a70e0" opacity="0.69" transform="rotate(-66 7.8 198.4)"/>
<rect x="17.8" y="264.4" width="2.6" height="1.3" fill="#5a9cff" opacity="0.45" transform="rotate(9 17.8 264.4)"/>
<rect x="27.8" y="233.7" width="1.2" height="1.1" fill="#6ad0ff" opacity="0.53" transform="rotate(2 27.8 233.7)"/>
<rect x="0.2" y="210.0" width="1.6" height="1.8" fill="#6ad0ff" opacity="0.44" transform="rotate(-55 0.2 210.0)"/>
<rect x="1.2" y="3.5" width="2.7" height="1.8" fill="#5a9cff" opacity="0.35" transform="rotate(8 1.2 3.5)"/>
<rect x="71.1" y="154.0" width="1.0" height="1.5" fill="#3a70e0" opacity="0.26" transform="rotate(-23 71.1 154.0)"/>
<rect x="103.7" y="249.2" width="2.4" height="1.0" fill="#6ad0ff" opacity="0.70" transform="rotate(18 103.7 249.2)"/>
<rect x="89.8" y="247.0" width="2.7" height="1.9" fill="#6ad0ff" opacity="0.32" transform="rotate(-16 89.8 247.0)"/>
<rect x="113.7" y="29.0" width="1.3" height="1.3" fill="#6ad0ff" opacity="0.46" transform="rotate(-65 113.7 29.0)"/>
<rect x="108.6" y="44.2" width="1.1" height="0.9" fill="#4ab8ff" opacity="0.67" transform="rotate(18 108.6 44.2)"/>
<rect x="43.5" y="21.1" width="1.4" height="1.9" fill="#4ab8ff" opacity="0.70" transform="rotate(-59 43.5 21.1)"/>
<rect x="87.9" y="6.2" width="2.1" height="1.7" fill="#3a70e0" opacity="0.45" transform="rotate(52 87.9 6.2)"/>
<rect x="1.0" y="293.8" width="1.7" height="1.2" fill="#6ad0ff" opacity="0.72" transform="rotate(7 1.0 293.8)"/>
<rect x="324.8" y="24.9" width="3.1" height="1.7" fill="#6ad0ff" opacity="0.35" transform="rotate(6 324.8 24.9)"/>
<rect x="90.9" y="295.9" width="0.8" height="1.3" fill="#5a9cff" opacity="0.27" transform="rotate(13 90.9 295.9)"/>
<rect x="93.4" y="4.6" width="2.4" height="1.2" fill="#5a9cff" opacity="0.48" transform="rotate(26 93.4 4.6)"/>
<rect x="132.7" y="14.7" width="1.0" height="1.3" fill="#4ab8ff" opacity="0.30" transform="rotate(5 132.7 14.7)"/>
<rect x="81.3" y="101.0" width="1.9" height="1.3" fill="#5a9cff" opacity="0.37" transform="rotate(12 81.3 101.0)"/>
<rect x="26.7" y="72.2" width="2.9" height="1.1" fill="#6ad0ff" opacity="0.53" transform="rotate(-15 26.7 72.2)"/>
<rect x="98.5" y="9.8" width="2.6" height="1.5" fill="#5a9cff" opacity="0.65" transform="rotate(-20 98.5 9.8)"/>
<rect x="75.0" y="9.2" width="2.6" height="1.1" fill="#3a70e0" opacity="0.45" transform="rotate(-53 75.0 9.2)"/>
<rect x="80.9" y="182.9" width="1.4" height="1.2" fill="#3a70e0" opacity="0.52" transform="rotate(36 80.9 182.9)"/>
<rect x="32.1" y="180.8" width="2.2" height="1.3" fill="#3a70e0" opacity="0.61" transform="rotate(16 32.1 180.8)"/>
<rect x="36.9" y="77.7" width="3.0" height="1.4" fill="#4ab8ff" opacity="0.42" transform="rotate(31 36.9 77.7)"/>
<rect x="61.0" y="39.0" width="2.5" height="1.0" fill="#6ad0ff" opacity="0.55" transform="rotate(-44 61.0 39.0)"/>
<rect x="66.1" y="41.7" width="1.6" height="1.1" fill="#5a9cff" opacity="0.54" transform="rotate(60 66.1 41.7)"/>
<rect x="3.2" y="59.7" width="2.9" height="1.9" fill="#6ad0ff" opacity="0.48" transform="rotate(13 3.2 59.7)"/>
<rect x="289.4" y="16.3" width="1.2" height="1.5" fill="#3a70e0" opacity="0.79" transform="rotate(7 289.4 16.3)"/>
<rect x="130.6" y="13.3" width="2.3" height="1.6" fill="#3a70e0" opacity="0.68" transform="rotate(-7 130.6 13.3)"/>
<rect x="5.0" y="49.4" width="1.7" height="1.6" fill="#3a70e0" opacity="0.48" transform="rotate(-41 5.0 49.4)"/>
<rect x="172.3" y="9.4" width="2.5" height="1.9" fill="#3a70e0" opacity="0.78" transform="rotate(54 172.3 9.4)"/>
<rect x="83.2" y="87.2" width="0.9" height="0.8" fill="#6ad0ff" opacity="0.62" transform="rotate(-58 83.2 87.2)"/>
<rect x="38.2" y="20.4" width="2.6" height="1.3" fill="#6ad0ff" opacity="0.28" transform="rotate(39 38.2 20.4)"/>
<rect x="101.6" y="184.5" width="1.6" height="1.0" fill="#6ad0ff" opacity="0.77" transform="rotate(-35 101.6 184.5)"/>
<rect x="252.1" y="40.8" width="1.8" height="1.8" fill="#6ad0ff" opacity="0.76" transform="rotate(-62 252.1 40.8)"/>
<rect x="73.4" y="275.4" width="3.0" height="0.8" fill="#5a9cff" opacity="0.77" transform="rotate(-59 73.4 275.4)"/>
<rect x="59.4" y="62.6" width="0.9" height="1.4" fill="#6ad0ff" opacity="0.60" transform="rotate(60 59.4 62.6)"/>
<rect x="38.5" y="62.3" width="2.4" height="1.8" fill="#4ab8ff" opacity="0.53" transform="rotate(-56 38.5 62.3)"/>
<rect x="73.4" y="117.5" width="2.3" height="1.1" fill="#6ad0ff" opacity="0.78" transform="rotate(53 73.4 117.5)"/>
<rect x="188.5" y="39.5" width="2.1" height="1.5" fill="#4ab8ff" opacity="0.57" transform="rotate(-23 188.5 39.5)"/>
<rect x="62.7" y="159.2" width="1.6" height="2.0" fill="#5a9cff" opacity="0.75" transform="rotate(64 62.7 159.2)"/>
<rect x="17.7" y="102.3" width="1.2" height="1.0" fill="#4ab8ff" opacity="0.69" transform="rotate(25 17.7 102.3)"/>
<rect x="38.3" y="170.7" width="1.8" height="1.0" fill="#4ab8ff" opacity="0.40" transform="rotate(-34 38.3 170.7)"/>
<rect x="104.7" y="0.6" width="1.0" height="0.9" fill="#4ab8ff" opacity="0.75" transform="rotate(-5 104.7 0.6)"/>
<rect x="84.9" y="30.1" width="0.9" height="2.0" fill="#3a70e0" opacity="0.46" transform="rotate(4 84.9 30.1)"/>
<rect x="55.0" y="168.4" width="2.1" height="1.2" fill="#6ad0ff" opacity="0.63" transform="rotate(-44 55.0 168.4)"/>
<rect x="86.2" y="32.1" width="1.2" height="2.0" fill="#4ab8ff" opacity="0.47" transform="rotate(-39 86.2 32.1)"/>
<rect x="5.9" y="21.2" width="2.8" height="1.6" fill="#5a9cff" opacity="0.33" transform="rotate(3 5.9 21.2)"/>
<rect x="319.0" y="10.2" width="2.9" height="0.8" fill="#4ab8ff" opacity="0.31" transform="rotate(30 319.0 10.2)"/>
<rect x="111.1" y="13.4" width="1.3" height="1.2" fill="#5a9cff" opacity="0.67" transform="rotate(-9 111.1 13.4)"/>
<rect x="20.5" y="50.3" width="3.0" height="1.5" fill="#3a70e0" opacity="0.75" transform="rotate(-31 20.5 50.3)"/>
<rect x="78.9" y="327.3" width="1.6" height="1.8" fill="#4ab8ff" opacity="0.74" transform="rotate(22 78.9 327.3)"/>
<rect x="73.0" y="188.9" width="1.6" height="1.5" fill="#4ab8ff" opacity="0.75" transform="rotate(61 73.0 188.9)"/>
<rect x="12.7" y="132.9" width="1.1" height="1.7" fill="#4ab8ff" opacity="0.37" transform="rotate(7 12.7 132.9)"/>
<rect x="32.1" y="236.6" width="2.9" height="1.1" fill="#6ad0ff" opacity="0.29" transform="rotate(-16 32.1 236.6)"/>
<rect x="6.5" y="244.3" width="2.1" height="1.6" fill="#6ad0ff" opacity="0.53" transform="rotate(42 6.5 244.3)"/>
<rect x="8.4" y="78.7" width="2.5" height="1.4" fill="#4ab8ff" opacity="0.28" transform="rotate(-18 8.4 78.7)"/>
<rect x="96.1" y="122.6" width="2.7" height="1.7" fill="#3a70e0" opacity="0.44" transform="rotate(47 96.1 122.6)"/>
<rect x="291.5" y="20.5" width="2.0" height="0.9" fill="#4ab8ff" opacity="0.46" transform="rotate(-33 291.5 20.5)"/>
<rect x="69.0" y="121.1" width="0.8" height="0.9" fill="#3a70e0" opacity="0.51" transform="rotate(9 69.0 121.1)"/>
<rect x="83.9" y="13.2" width="3.1" height="1.2" fill="#5a9cff" opacity="0.71" transform="rotate(-57 83.9 13.2)"/>
<rect x="31.0" y="133.3" width="1.3" height="1.5" fill="#5a9cff" opacity="0.72" transform="rotate(-43 31.0 133.3)"/>
<rect x="35.4" y="294.6" width="1.8" height="1.3" fill="#6ad0ff" opacity="0.34" transform="rotate(-21 35.4 294.6)"/>
<rect x="82.8" y="233.6" width="2.6" height="0.9" fill="#5a9cff" opacity="0.53" transform="rotate(-14 82.8 233.6)"/>
<rect x="26.7" y="68.0" width="1.3" height="2.0" fill="#4ab8ff" opacity="0.71" transform="rotate(-40 26.7 68.0)"/>
<rect x="27.4" y="237.5" width="2.3" height="1.2" fill="#5a9cff" opacity="0.59" transform="rotate(-39 27.4 237.5)"/>
<rect x="127.8" y="12.1" width="1.8" height="1.4" fill="#6ad0ff" opacity="0.76" transform="rotate(-67 127.8 12.1)"/>
<rect x="6.2" y="66.1" width="1.7" height="1.7" fill="#4ab8ff" opacity="0.50" transform="rotate(62 6.2 66.1)"/>
<rect x="324.8" y="24.0" width="2.7" height="1.3" fill="#6ad0ff" opacity="0.30" transform="rotate(-11 324.8 24.0)"/>
<rect x="48.5" y="75.9" width="1.6" height="1.5" fill="#5a9cff" opacity="0.44" transform="rotate(35 48.5 75.9)"/>
<rect x="74.2" y="119.7" width="2.5" height="1.4" fill="#5a9cff" opacity="0.63" transform="rotate(35 74.2 119.7)"/>
<rect x="289.1" y="12.5" width="1.7" height="1.8" fill="#6ad0ff" opacity="0.71" transform="rotate(-61 289.1 12.5)"/>
<rect x="0.4" y="165.1" width="2.3" height="1.5" fill="#4ab8ff" opacity="0.73" transform="rotate(-20 0.4 165.1)"/>
<rect x="296.4" y="43.7" width="3.0" height="1.5" fill="#4ab8ff" opacity="0.58" transform="rotate(32 296.4 43.7)"/>
</g>
</svg>
<div id="panel"></div>
<svg id="globe" width="1024" height="576" viewBox="0 0 1024 576" style="position:absolute;left:0;top:0">
<defs><filter id="gbl" x="-20%" y="-20%" width="140%" height="140%"><feGaussianBlur stdDeviation="10"/></filter><mask id="gm" maskUnits="userSpaceOnUse" x="0" y="0" width="1024" height="576"><path d="M545,128 L505,200 L482,255 L452,320 L455,400 L458,466 L792,466 L788,400 L748,320 L702,255 L690,200 L650,128 Z" fill="#fff" filter="url(#gbl)"/></mask>
<linearGradient id="gf" x1="0" y1="0" x2="1" y2="0"><stop offset="0" stop-color="#fff" stop-opacity="0"/><stop offset="0.2" stop-color="#fff" stop-opacity="1"/><stop offset="0.8" stop-color="#fff" stop-opacity="1"/><stop offset="1" stop-color="#fff" stop-opacity="0"/></linearGradient>
</defs>
<g mask="url(#gm)" font-family="Liberation Sans, sans-serif" font-weight="bold" font-size="10" fill="#ffffff" opacity="0.36">
<text x="440" y="136" textLength="360" lengthAdjust="spacingAndGlyphs">0101011101110001101000000100011101011101010001010101010001010111010101</text>
<text x="440" y="146.8" textLength="360" lengthAdjust="spacingAndGlyphs">0101010111010001010101110101010101111111010111010101110101010101010111</text>
<text x="440" y="157.60000000000002" textLength="360" lengthAdjust="spacingAndGlyphs">0101110101000100010101011101010101010101010101010101010101010111000101</text>
<text x="440" y="168.40000000000003" textLength="360" lengthAdjust="spacingAndGlyphs">1001110101110101010101010101010101010101010101011101000101010001110000</text>
<text x="440" y="179.20000000000005" textLength="360" lengthAdjust="spacingAndGlyphs">0100011101011101010001000001010101010101111111010101010100010101010101</text>
<text x="440" y="190.00000000000006" textLength="360" lengthAdjust="spacingAndGlyphs">0100010101010110000101010110010100010101001101011101010100010101010101</text>
<text x="440" y="200.80000000000007" textLength="360" lengthAdjust="spacingAndGlyphs">0011010101011101011101010101010101010001000101010101111110010101000101</text>
<text x="440" y="211.60000000000008" textLength="360" lengthAdjust="spacingAndGlyphs">1101010101010000010101010101010101010100010100110101000101010001010101</text>
<text x="440" y="222.4000000000001" textLength="360" lengthAdjust="spacingAndGlyphs">0101010100010101010101010111100101110101010001110101011001011101010101</text>
<text x="440" y="233.2000000000001" textLength="360" lengthAdjust="spacingAndGlyphs">0111000111110001010010010101010101010101000001010101011101010111010101</text>
<text x="440" y="244.0000000000001" textLength="360" lengthAdjust="spacingAndGlyphs">0001010100010001010011010001010101010101111001000101000101010101011101</text>
<text x="440" y="254.80000000000013" textLength="360" lengthAdjust="spacingAndGlyphs">1100010101010111110100010101010111011100010101010101110111110111010101</text>
<text x="440" y="265.60000000000014" textLength="360" lengthAdjust="spacingAndGlyphs">0111010110010101010101000101010111000101000101110100010101111100010101</text>
<text x="440" y="276.40000000000015" textLength="360" lengthAdjust="spacingAndGlyphs">0101010101010100000111011101010101010111100101001101011101111101000111</text>
<text x="440" y="287.20000000000016" textLength="360" lengthAdjust="spacingAndGlyphs">0001010101010101010001010101010101010101110101011001110101010101110111</text>
<text x="440" y="298.00000000000017" textLength="360" lengthAdjust="spacingAndGlyphs">0101011011011101010101010101000101011101001011010101110111010101111100</text>
<text x="440" y="308.8000000000002" textLength="360" lengthAdjust="spacingAndGlyphs">0100011100010101110101000101010101010111010101010000010101010101010000</text>
<text x="440" y="319.6000000000002" textLength="360" lengthAdjust="spacingAndGlyphs">0001110001010101010101010001010011000101010101010101010101000101010001</text>
<text x="440" y="330.4000000000002" textLength="360" lengthAdjust="spacingAndGlyphs">0101011100011101010101010101101101110111011101111011010111110100010101</text>
<text x="440" y="341.2000000000002" textLength="360" lengthAdjust="spacingAndGlyphs">0101011001010101010101010001010100110101010101011101011101010101010101</text>
<text x="440" y="352.0000000000002" textLength="360" lengthAdjust="spacingAndGlyphs">0001010101010101110101011101010101010101010101010101010101011101110100</text>
<text x="440" y="362.80000000000024" textLength="360" lengthAdjust="spacingAndGlyphs">0001010101010001011001010001010101010101000001010101000101010101000101</text>
<text x="440" y="373.60000000000025" textLength="360" lengthAdjust="spacingAndGlyphs">0101110101010101011001010001011101010101000011110001010101010101010101</text>
<text x="440" y="384.40000000000026" textLength="360" lengthAdjust="spacingAndGlyphs">0011011101111111011101011101010101010101010100011101110101010100010111</text>
<text x="440" y="395.2000000000003" textLength="360" lengthAdjust="spacingAndGlyphs">1101010111110111110101000111000101010101011001010101010000001101010101</text>
<text x="440" y="406.0000000000003" textLength="360" lengthAdjust="spacingAndGlyphs">0111011001011111010101010110010101111111010101010011010111010000010101</text>
<text x="440" y="416.8000000000003" textLength="360" lengthAdjust="spacingAndGlyphs">0100010000010101000101010100010101010101010101010101010100010001011000</text>
<text x="440" y="427.6000000000003" textLength="360" lengthAdjust="spacingAndGlyphs">0101010101010110110000010111110101011101010101110101010101010101010101</text>
<text x="440" y="438.4000000000003" textLength="360" lengthAdjust="spacingAndGlyphs">0101011101010001010101010111010111010101011101010101111101010001010111</text>
<text x="440" y="449.20000000000033" textLength="360" lengthAdjust="spacingAndGlyphs">0101010001000101110101011101011111010101010101010001010101010001010101</text>
<text x="440" y="460.00000000000034" textLength="360" lengthAdjust="spacingAndGlyphs">0100010011010100010101010111011101010101110101010001010101010101010101</text>
</g></svg>
<div style="position:absolute;left:297px;top:169px;width:2px;height:236px;background:#8a8a8a"></div>
<div style="position:absolute;left:297px;top:403.3px;width:452.5px;height:1.6px;background:#8a8a8a"></div>
<div style="position:absolute;left:354.06px;top:398.5px;width:1.2px;height:5px;background:#8a8a8a"></div><div style="position:absolute;left:410.42px;top:398.5px;width:1.2px;height:5px;background:#8a8a8a"></div><div style="position:absolute;left:466.78px;top:398.5px;width:1.2px;height:5px;background:#8a8a8a"></div><div style="position:absolute;left:523.14px;top:398.5px;width:1.2px;height:5px;background:#8a8a8a"></div><div style="position:absolute;left:579.50px;top:398.5px;width:1.2px;height:5px;background:#8a8a8a"></div><div style="position:absolute;left:635.86px;top:398.5px;width:1.2px;height:5px;background:#8a8a8a"></div><div style="position:absolute;left:692.22px;top:398.5px;width:1.2px;height:5px;background:#8a8a8a"></div><div style="position:absolute;left:748.58px;top:398.5px;width:1.2px;height:5px;background:#8a8a8a"></div>
<div class="bar" style="top:205px;width:394px;height:38px;background:#b3b3b3;border:1px solid #979797;border-left:none"></div>
<div class="bar" style="top:268px;width:450px;height:38px;background:#fe3535"></div>
<div class="bar" style="top:331px;width:338px;height:38px;background:#5d1127"></div>
<svg id="ttl" width="1024" height="140" viewBox="0 0 1024 140" style="position:absolute;left:0;top:0"><text transform="scale(0.9153,1)" x="153.80 178.14 205.81 228.19 238.69 265.73 290.46 311.44 323.80 350.30 373.01 398.29 408.16 436.56 460.62 487.18 497.46 522.73 534.10 554.38 580.54 590.26 600.42 625.24 647.13 658.38 679.90 701.32 710.62 734.52 763.79 787.05 809.42 829.52 852.10 875.41 898.86 918.70 942.27" y="121.9" font-family="Liberation Sans, sans-serif" font-size="35" font-weight="bold" fill="#c0222b">SOSIAALINEN MEDIA TAI DEITTISOVELLUKSET</text></svg>
<div class="t lab" id="l1" style="left:227.03px;top:211.00px;transform:scaleX(0.9667);">KAIKKI</div>
<div class="t lab" id="l2" style="left:220.67px;top:275.10px;transform:scaleX(0.9338);">NAISET</div>
<div class="t lab" id="l3" style="left:218.04px;top:337.40px;transform:scaleX(0.9260);">MIEHET</div>
<div class="t lab" id="v1" style="left:705.61px;top:213.90px;transform:scaleX(0.9637);">35 %</div>
<div class="t lab" id="v2" style="left:764.60px;top:279.80px;transform:scaleX(0.9690);">40 %</div>
<div class="t lab" id="v3" style="left:648.00px;top:341.40px;transform:scaleX(0.9773);">30 %</div>
<div class="t lab tk" id="t0" style="left:293.51px;top:405.20px;transform:scaleX(0.9235);">0</div>
<div class="t lab tk" id="t1" style="left:347.44px;top:405.20px;transform:scaleX(1.2312);">5</div>
<div class="t lab tk" id="t2" style="left:400.20px;top:405.20px;transform:scaleX(0.9090);">10</div>
<div class="t lab tk" id="t3" style="left:456.64px;top:405.20px;transform:scaleX(0.9653);">15</div>
<div class="t lab tk" id="t4" style="left:512.16px;top:405.20px;transform:scaleX(1.0305);">20</div>
<div class="t lab tk" id="t5" style="left:567.72px;top:405.20px;transform:scaleX(1.0407);">25</div>
<div class="t lab tk" id="t6" style="left:625.66px;top:405.20px;transform:scaleX(0.9877);">30</div>
<div class="t lab tk" id="t7" style="left:681.85px;top:405.20px;transform:scaleX(0.9856);">35</div>
<div class="t lab tk" id="t8" style="left:737.48px;top:405.20px;transform:scaleX(1.0386);">40</div>
<div class="t src" id="src" style="left:786.07px;top:438.60px;transform:scaleX(0.9025);">Lähde: Finanssiala ry</div>
</body></html>
